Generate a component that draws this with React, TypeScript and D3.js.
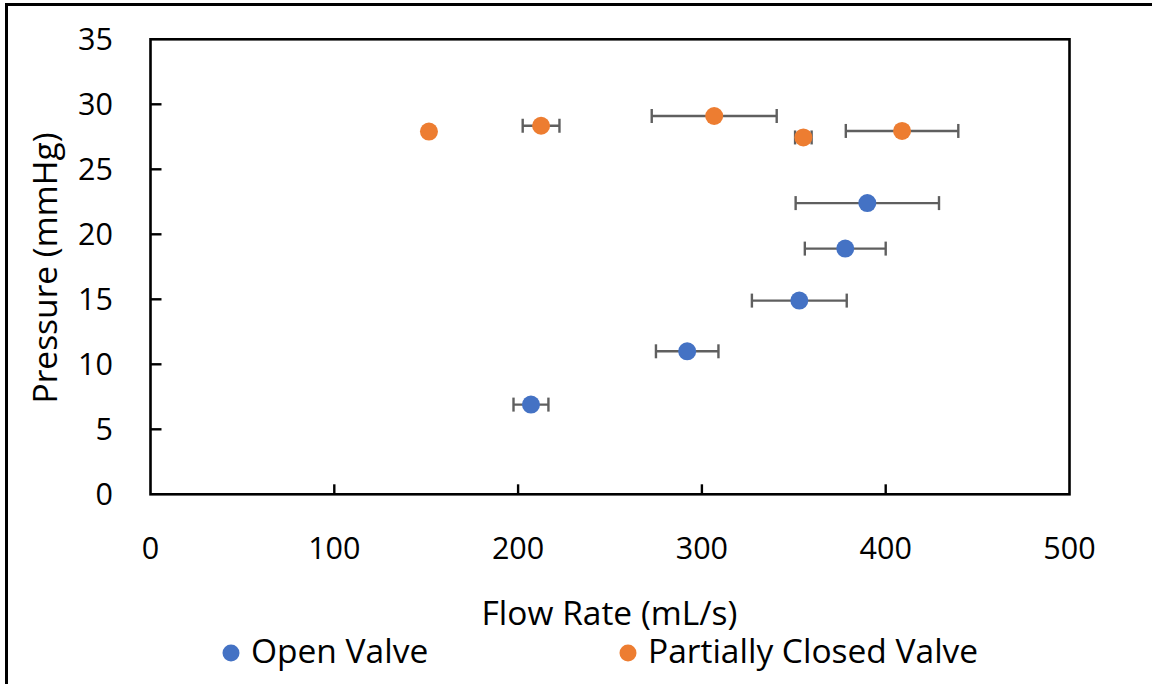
import React from "react";
import * as d3 from "d3";

// Flow rate (mL/s) vs pressure (mmHg), with horizontal error bars (± flow SD)
const openFlow = [207, 292, 353, 378, 390];
const openPressure = [6.9, 11.0, 14.9, 18.9, 22.4];
const openErr = [9.5, 17, 25.8, 22, 39];

const closedFlow = [151.5, 212.5, 306.7, 355.2, 408.9];
const closedPressure = [27.9, 28.35, 29.1, 27.45, 27.95];
const closedErr = [0, 10, 34, 4.5, 30.6];

const xTicks = [0, 100, 200, 300, 400, 500];
const yTicks = [0, 5, 10, 15, 20, 25, 30, 35];

const seriesNames = ["Open Valve", "Partially Closed Valve"];
const seriesColors = ["#4472C4", "#ED7D31"];

const W = 1152;
const H = 684;
const FONT = "'Open Sans', Lato, sans-serif";

export default function App() {
  const x = d3.scaleLinear().domain([0, 500]).range([150.5, 1069.5]);
  const y = d3.scaleLinear().domain([0, 35]).range([494.3, 39.3]);

  const series = [
    { flow: openFlow, p: openPressure, err: openErr, color: seriesColors[0] },
    { flow: closedFlow, p: closedPressure, err: closedErr, color: seriesColors[1] },
  ];

  const errColor = "#5f5f5f";
  const capH = 7;

  return (
    <div style={{ position: "absolute", left: 0, top: 0 }}>
      <svg width={W} height={H} style={{ display: "block", background: "#fff" }}>
        {/* outer frame (left and top edges visible) */}
        <line x1={6.5} x2={6.5} y1={4} y2={H} stroke="#000" strokeWidth={3} />
        <line x1={5} x2={W} y1={4.5} y2={4.5} stroke="#000" strokeWidth={3} />

        {/* plot area border */}
        <rect
          x={x(0)}
          y={y(35)}
          width={x(500) - x(0)}
          height={y(0) - y(35)}
          fill="none"
          stroke="#000"
          strokeWidth={2.6}
        />

        {/* inward ticks */}
        {yTicks
          .filter((t) => t > 0 && t < 35)
          .map((t) => (
            <line key={"yt" + t} x1={x(0)} x2={x(0) + 11} y1={y(t)} y2={y(t)} stroke="#000" strokeWidth={2.4} />
          ))}
        {xTicks
          .filter((t) => t > 0 && t < 500)
          .map((t) => (
            <line key={"xt" + t} x1={x(t)} x2={x(t)} y1={y(0)} y2={y(0) - 10} stroke="#000" strokeWidth={2.4} />
          ))}

        {/* tick labels */}
        {yTicks.map((t) => (
          <text
            key={"yl" + t}
            x={113}
            y={y(t)}
            dy="0.36em"
            textAnchor="end"
            fontFamily={FONT}
            fontSize={30.5}
            fill="#000"
          >
            {t}
          </text>
        ))}
        {xTicks.map((t) => (
          <text
            key={"xl" + t}
            x={x(t)}
            y={559}
            textAnchor="middle"
            fontFamily={FONT}
            fontSize={30.5}
            fill="#000"
          >
            {t}
          </text>
        ))}

        {/* axis titles */}
        <text x={609.5} y={625} textAnchor="middle" fontFamily={FONT} fontSize={33.5} fill="#000">
          Flow Rate (mL/s)
        </text>
        <text
          transform={`translate(57,268) rotate(-90)`}
          textAnchor="middle"
          fontFamily={FONT}
          fontSize={33.5}
          fill="#000"
        >
          Pressure (mmHg)
        </text>

        {/* error bars and markers */}
        {series.map((s, si) => (
          <g key={"s" + si}>
            {s.flow.map((f, i) => {
              const e = s.err[i];
              if (e <= 0) return null;
              const cy = y(s.p[i]);
              const x0 = x(f - e);
              const x1 = x(f + e);
              return (
                <g key={"e" + i} stroke={errColor} strokeWidth={2.4}>
                  <line x1={x0} x2={x1} y1={cy} y2={cy} />
                  <line x1={x0} x2={x0} y1={cy - capH} y2={cy + capH} />
                  <line x1={x1} x2={x1} y1={cy - capH} y2={cy + capH} />
                </g>
              );
            })}
            {s.flow.map((f, i) => (
              <circle key={"c" + i} cx={x(f)} cy={y(s.p[i])} r={9} fill={s.color} />
            ))}
          </g>
        ))}

        {/* legend */}
        <circle cx={231} cy={653} r={8.5} fill={seriesColors[0]} />
        <text x={251} y={663} fontFamily={FONT} fontSize={33.5} fill="#000">
          {seriesNames[0]}
        </text>
        <circle cx={628} cy={653} r={8.5} fill={seriesColors[1]} />
        <text x={648} y={663} fontFamily={FONT} fontSize={33.5} fill="#000">
          {seriesNames[1]}
        </text>
      </svg>
    </div>
  );
}
